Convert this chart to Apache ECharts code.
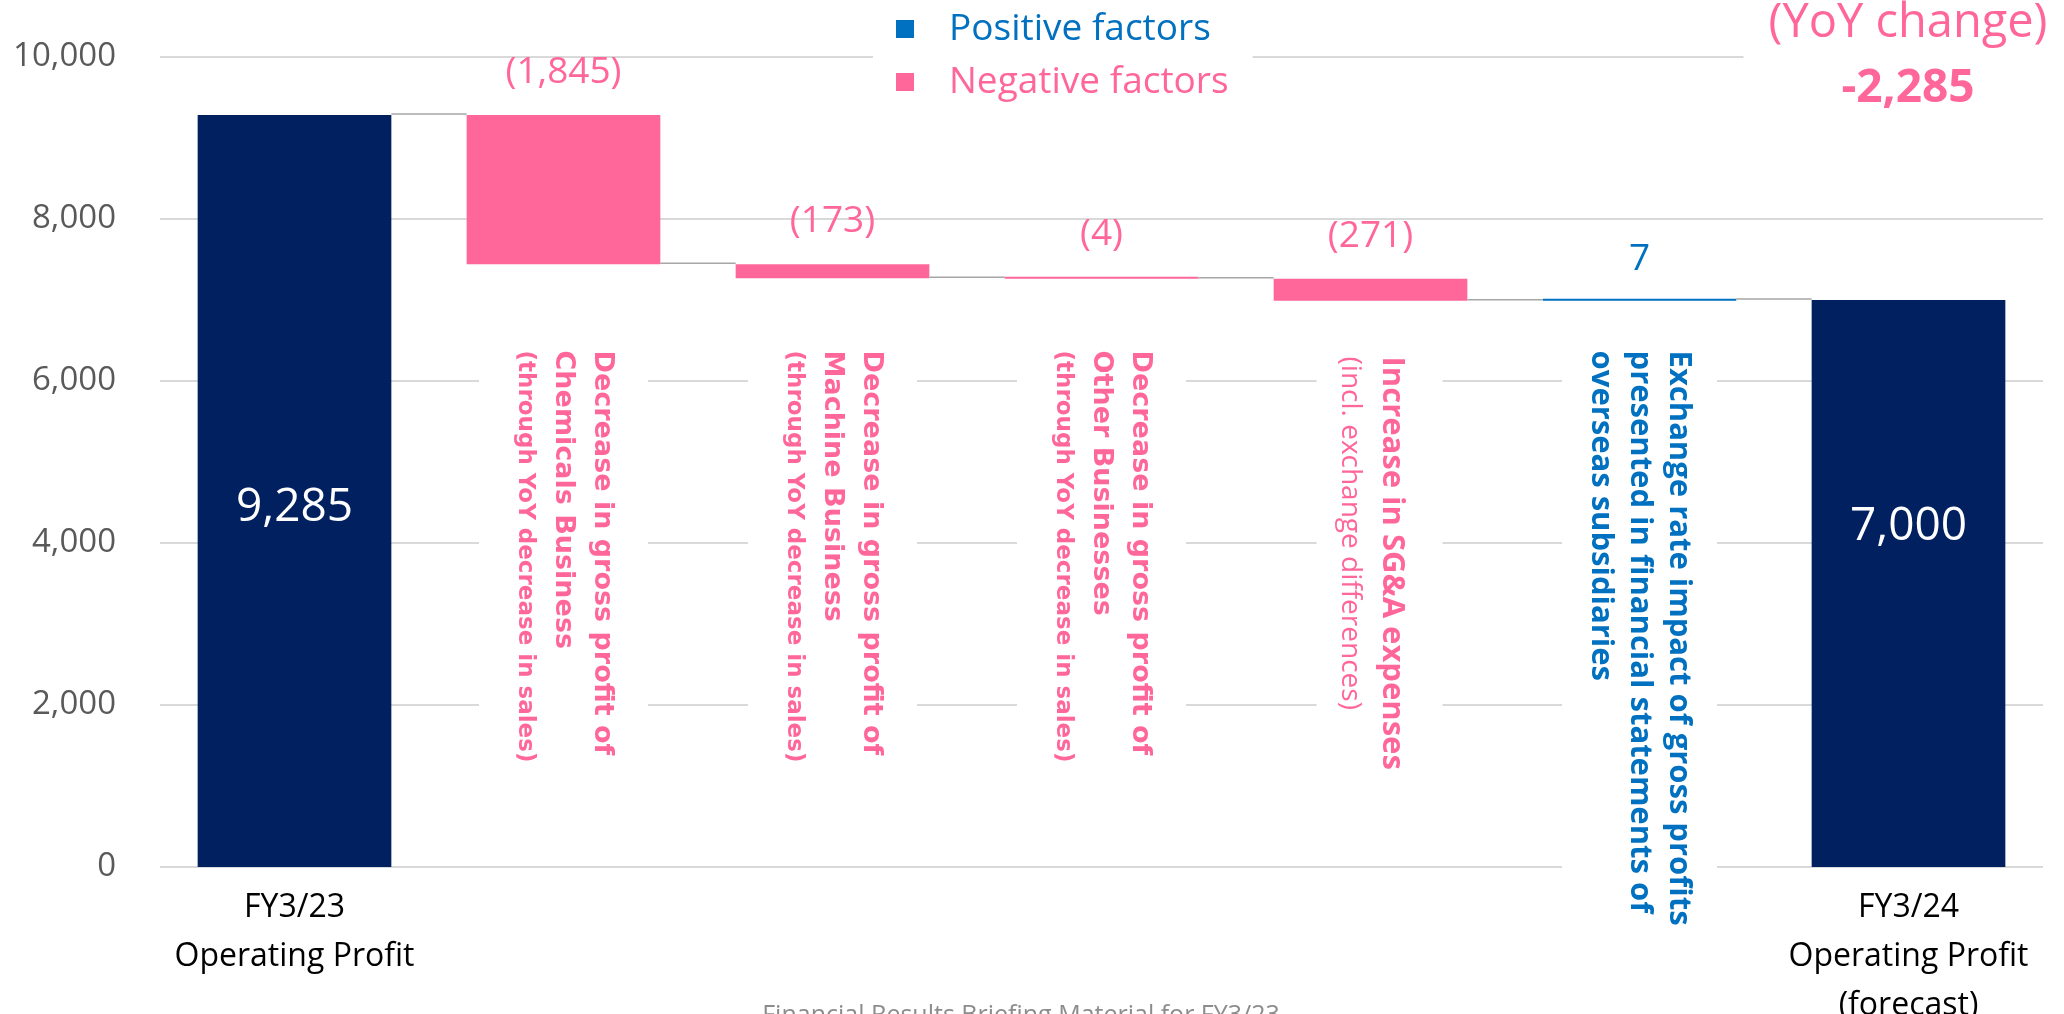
<!DOCTYPE html>
<html>
<head>
<meta charset="utf-8">
<title>Operating Profit FY3/23 - FY3/24</title>
<script src="https://cdn.jsdelivr.net/npm/echarts@6/dist/echarts.min.js"></script>
<style>
    html, body { margin: 0; padding: 0; background: #fff; }
    #main { width: 2064px; height: 1014px; }
</style>
</head>
<body>
<div id="main"></div>
<script>
// 数据
var categories = ['FY3/23\nOperating Profit', 'Chemicals', 'Machine', 'Other', 'SG&A', 'Exchange', 'FY3/24\nOperating Profit\n(forecast)'];
var startProfit = 9285;
var endProfit = 7000;
var factorValues = [-1845, -173, -4, -271, 7];
var factorTexts = [
    ['Decrease in gross profit of', 'Chemicals Business', '(through YoY decrease in sales)'],
    ['Decrease in gross profit of', 'Machine Business', '(through YoY decrease in sales)'],
    ['Decrease in gross profit of', 'Other Businesses', '(through YoY decrease in sales)'],
    ['Increase in SG&A expenses', '(incl. exchange differences)'],
    ['Exchange rate impact of gross profits', 'presented in financial statements of', 'overseas subsidiaries']
];
var yTicks = [0, 2000, 4000, 6000, 8000, 10000];
var legendNames = ['Positive factors', 'Negative factors'];
var footerText = 'Financial Results Briefing Material for FY3/23';

var NAVY = '#002060', PINK = '#FF6699', BLUE = '#0070C0';
var FONT = '"Open Sans", "Noto Sans", sans-serif';

// 瀑布图数据
var base = [0], totals = [startProfit], negs = ['-'], poss = ['-'], levels = [startProfit];
var run = startProfit;
factorValues.forEach(function (v) {
    var next = run + v;
    base.push(Math.min(run, next));
    totals.push('-');
    negs.push(v < 0 ? -v : '-');
    poss.push(v > 0 ? v : '-');
    run = next;
    levels.push(run);
});
base.push(0); totals.push(endProfit); negs.push('-'); poss.push('-');

var labelTop = 6450;
var connData = levels.map(function (v, i) { return [i, v]; });
var factorLabelData = factorTexts.map(function (t, i) { return [i + 1, labelTop]; });

function fmt(v) { return echarts.format.addCommas(v); }

// 文字样式
function labelStyle(i) {
    var lines = factorTexts[i];
    if (i < 3) {
        return {
            text: '{a|' + lines[0] + '}\n{a|' + lines[1] + '}\n{b|' + lines[2] + '}',
            rich: {
                a: {fontFamily: 'DejaVu Sans', fontWeight: 'bold', fontSize: 27, lineHeight: 39, fill: PINK},
                b: {fontFamily: 'DejaVu Sans', fontWeight: 'bold', fontSize: 23, lineHeight: 39, fill: PINK}
            },
            padding: [26, 10, 26, 6]
        };
    }
    if (i === 3) {
        return {
            text: '{a|' + lines[0] + '}\n{c|' + lines[1] + '}',
            rich: {
                a: {fontFamily: FONT, fontWeight: 'bold', fontSize: 31, lineHeight: 42, fill: PINK},
                c: {fontFamily: FONT, fontWeight: 'normal', fontSize: 28, lineHeight: 42, fill: PINK}
            },
            padding: [30, 10, 12, 12]
        };
    }
    return {
        text: lines.map(function (l) { return '{a|' + l + '}'; }).join('\n'),
        rich: {
            a: {fontFamily: FONT, fontWeight: 'bold', fontSize: 31, lineHeight: 39, fill: BLUE}
        },
        padding: [19, 10, 19, 6]
    };
}

var chart = echarts.init(document.getElementById('main'));
chart.setOption({
    animation: false,
    backgroundColor: '#fff',
    textStyle: {fontFamily: FONT},
    title: {
        text: '(YoY change)',
        subtext: fmt(endProfit - startProfit),
        left: 1883,
        top: 0,
        textAlign: 'center',
        padding: [0, 25, 4, 25],
        itemGap: 17,
        backgroundColor: '#fff',
        textStyle: {color: PINK, fontSize: 47, fontWeight: 'normal', fontFamily: FONT, lineHeight: 48},
        subtextStyle: {color: PINK, fontSize: 46, fontWeight: 'bold', fontFamily: FONT, lineHeight: 48}
    },
    legend: {
        orient: 'vertical',
        left: 873,
        top: 2,
        padding: [5, 24, 5, 23],
        backgroundColor: '#fff',
        itemWidth: 18,
        itemHeight: 18,
        itemGap: 9,
        icon: 'rect',
        data: [
            {name: legendNames[0], textStyle: {color: BLUE}},
            {name: legendNames[1], textStyle: {color: PINK}}
        ],
        textStyle: {fontSize: 37, fontFamily: FONT, lineHeight: 44, padding: [0, 0, 0, 30]}
    },
    grid: {left: 160, right: 21, top: 57, bottom: 147, containLabel: false, outerBoundsMode: 'none'},
    xAxis: {
        type: 'category',
        data: categories,
        axisLine: {show: false},
        axisTick: {show: false},
        axisLabel: {
            interval: 0,
            margin: 16,
            color: '#000',
            fontSize: 32,
            lineHeight: 49,
            fontFamily: FONT,
            formatter: function (v, i) { return (i === 0 || i === categories.length - 1) ? v : ''; }
        }
    },
    yAxis: {
        type: 'value',
        min: yTicks[0],
        max: yTicks[yTicks.length - 1],
        interval: yTicks[1] - yTicks[0],
        axisLine: {show: false},
        axisTick: {show: false},
        axisLabel: {color: '#595959', fontSize: 33, margin: 44, fontFamily: FONT},
        splitLine: {lineStyle: {color: '#D9D9D9', width: 2}}
    },
    graphic: [{
        type: 'text',
        x: 1021,
        y: 1016,
        silent: true,
        style: {text: footerText, fill: '#8C8C8C', font: '25px ' + FONT, align: 'center', verticalAlign: 'middle'}
    }],
    series: [
        {
            type: 'bar', stack: 'w', barWidth: '72%', silent: true,
            itemStyle: {color: 'transparent'},
            data: base
        },
        {
            type: 'bar', stack: 'w', name: 'Total', barWidth: '72%',
            itemStyle: {color: NAVY},
            label: {show: true, position: 'inside', color: '#fff', fontSize: 46, fontFamily: FONT,
                formatter: function (p) { return fmt(p.value); }},
            data: totals.map(function (v, i) {
                if (v === '-') return v;
                return {value: v, label: {offset: [0, i === 0 ? 17 : -57]}};
            })
        },
        {
            type: 'bar', stack: 'w', name: legendNames[1], barWidth: '72%', barMinHeight: 2,
            itemStyle: {color: PINK},
            label: {show: true, position: 'top', distance: 24, color: PINK, fontSize: 37, fontFamily: FONT,
                formatter: function (p) { return '(' + fmt(p.value) + ')'; }},
            data: negs
        },
        {
            type: 'bar', stack: 'w', name: legendNames[0], barWidth: '72%', barMinHeight: 2,
            itemStyle: {color: BLUE},
            label: {show: true, position: 'top', distance: 21, color: BLUE, fontSize: 37, fontFamily: FONT,
                formatter: function (p) { return fmt(p.value); }},
            data: poss
        },
        {
            type: 'custom', silent: true, z: 3,
            data: connData,
            renderItem: function (params, api) {
                var a = api.coord([api.value(0), api.value(1)]);
                var b = api.coord([api.value(0) + 1, api.value(1)]);
                var half = api.size([1, 0])[0] * 0.36;
                return {
                    type: 'line',
                    shape: {x1: a[0] + half, y1: a[1] - 1, x2: b[0] - half, y2: a[1] - 1},
                    style: {stroke: '#A6A6A6', lineWidth: 1.5}
                };
            }
        },
        {
            type: 'custom', silent: true, z: 4,
            data: factorLabelData,
            renderItem: function (params, api) {
                var p = api.coord([api.value(0), api.value(1)]);
                var s = labelStyle(params.dataIndex);
                return {
                    type: 'text',
                    x: p[0] + (params.dataIndex === 3 ? 9 : 0),
                    y: p[1],
                    rotation: -Math.PI / 2,
                    style: {
                        text: s.text,
                        rich: s.rich,
                        align: 'left',
                        verticalAlign: 'middle',
                        backgroundColor: '#fff',
                        padding: s.padding
                    }
                };
            }
        }
    ]
});
</script>
</body>
</html>
